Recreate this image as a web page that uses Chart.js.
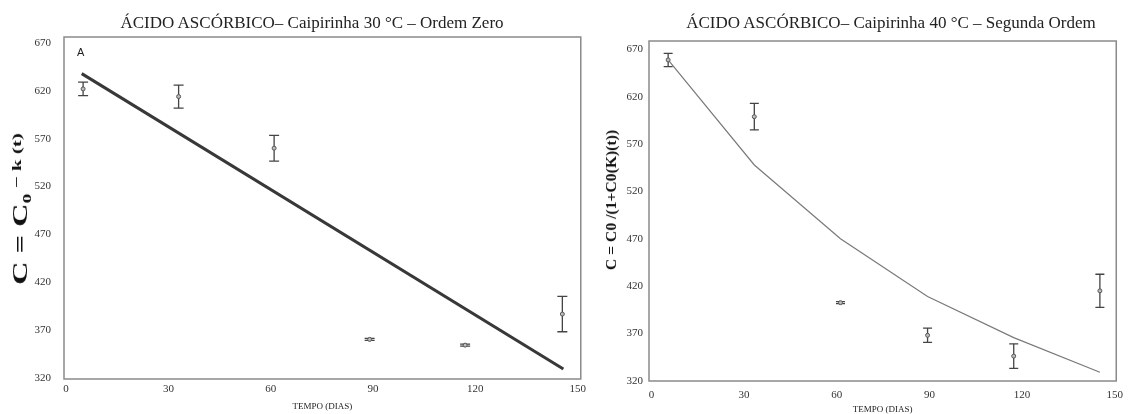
<!DOCTYPE html>
<html><head><meta charset="utf-8">
<script src="https://cdn.jsdelivr.net/npm/chart.js@4.4.1/dist/chart.umd.min.js"></script>
<style>
html,body{margin:0;padding:0;background:#fff;}
body{width:1131px;height:414px;position:relative;overflow:hidden;font-family:"Liberation Serif","DejaVu Serif",serif;}
canvas{position:absolute;top:0;}
#c1{left:0;}
#c2{left:590px;}
.title{position:absolute;top:14px;transform:translateX(-50%);white-space:nowrap;font-size:17px;line-height:17px;color:#222;}
#t1{left:312px;}
#t2{left:891px;}
#lblA{position:absolute;left:77px;top:47px;font-family:"Liberation Sans",Arial,sans-serif;font-size:11px;line-height:11px;color:#222;}
.ytitle{position:absolute;white-space:nowrap;font-weight:bold;color:#111;}
#yt1{left:20px;top:209px;font-size:20px;line-height:20px;transform:translate(-50%,-50%) rotate(-90deg) scaleX(1.62);}
#yt1 sub{font-size:12px;vertical-align:-4px;line-height:0;}
#yt1 .sp{font-size:13px;vertical-align:6px;line-height:0;}
#yt2{left:612px;top:200px;font-size:14px;line-height:14px;transform:translate(-50%,-50%) rotate(-90deg) scaleX(1.12);}
</style></head>
<body>
<canvas id="c1" width="590" height="414"></canvas>
<canvas id="c2" width="541" height="414"></canvas>
<div class="title" id="t1">ÁCIDO ASCÓRBICO– Caipirinha 30 °C – Ordem Zero</div>
<div class="title" id="t2">ÁCIDO ASCÓRBICO– Caipirinha 40 °C – Segunda Ordem</div>
<div id="lblA">A</div>
<div class="ytitle" id="yt1">C = C<sub>0</sub><span class="sp"> − k (t)</span></div>
<div class="ytitle" id="yt2">C = C0 /(1+C0(K)(t))</div>
<script>
// ---- data ----
const xTicks = [0, 30, 60, 90, 120, 150];
const yTicks = [320, 370, 420, 470, 520, 570, 620, 670];
const xTitle = 'TEMPO (DIAS)';

const days30 = [5, 33, 61, 89, 117, 145.5];
const conc30 = [622, 614, 560, 360, 354, 386.5];
const err30 = [7, 12, 13.5, 1, 1, 18.5];
const fitDays30 = [4.6, 145.8];
const fit30 = [638, 329];

const days40 = [5.4, 33.3, 61.2, 89.4, 117.3, 145.2];
const conc40 = [659, 599, 402.5, 368, 346, 415];
const err40 = [7, 14, 1, 7.5, 13, 17.5];
const model40 = [659, 548, 470, 409, 365.5, 329];

// ---- helpers ----
const FONT = '"Liberation Serif","DejaVu Serif",serif';
const pts = (xs, ys) => xs.map((x, i) => ({x: x, y: ys[i]}));

const errorBars = {
  id: 'errorBars',
  beforeDatasetsDraw(chart) {
    const ctx = chart.ctx, xs = chart.scales.x, ys = chart.scales.y;
    chart.data.datasets.forEach(ds => {
      if (!ds.errors) return;
      ctx.save();
      ctx.strokeStyle = ds.errColor || '#444';
      ctx.lineWidth = 1.3;
      ds.data.forEach((p, i) => {
        const e = ds.errors[i];
        const px = xs.getPixelForValue(p.x);
        const top = ys.getPixelForValue(p.y + e);
        const bot = ys.getPixelForValue(p.y - e);
        const cw = ds.capHalf || 5;
        ctx.beginPath();
        ctx.moveTo(px, top); ctx.lineTo(px, bot);
        ctx.moveTo(px - cw, top); ctx.lineTo(px + cw, top);
        ctx.moveTo(px - cw, bot); ctx.lineTo(px + cw, bot);
        ctx.stroke();
      });
      ctx.restore();
    });
  }
};
const frame = {
  id: 'frame',
  afterDraw(chart) {
    const a = chart.chartArea, ctx = chart.ctx;
    ctx.save();
    ctx.strokeStyle = '#8a8a8a';
    ctx.lineWidth = 1.5;
    ctx.strokeRect(a.left, a.top, a.right - a.left, a.bottom - a.top);
    ctx.restore();
  }
};

function makeScales(o) {
  return {
    x: {
      type: 'linear', min: o.xmin, max: o.xmax,
      border: {display: false},
      grid: {display: false, drawTicks: false},
      ticks: {padding: o.xpad, autoSkip: false, maxRotation: 0, color: '#333', font: {family: FONT, size: 11}},
      afterBuildTicks: s => { s.ticks = xTicks.map(v => ({value: v})); },
      afterFit: s => { s.height = o.xh; },
      title: {display: true, text: xTitle, color: '#222', font: {family: FONT, size: 9, lineHeight: 1}, padding: {top: 0, bottom: o.tpad}}
    },
    y: {
      type: 'linear', min: o.ymin, max: o.ymax,
      border: {display: false},
      grid: {display: false, drawTicks: false},
      ticks: {padding: o.ypad, autoSkip: false, color: '#333', font: {family: FONT, size: 11}},
      afterBuildTicks: s => { s.ticks = yTicks.map(v => ({value: v})); },
      afterFit: s => { s.width = o.yw; }
    }
  };
}

const common = {
  responsive: false, animation: false, devicePixelRatio: 1,
  plugins: {legend: {display: false}, tooltip: {enabled: false}}
};

new Chart(document.getElementById('c1'), {
  type: 'scatter',
  data: {datasets: [
    {data: pts(fitDays30, fit30), showLine: true, borderColor: '#383838', borderWidth: 3, pointRadius: 0, order: 2},
    {data: pts(days30, conc30), errors: err30, capHalf: 5, errColor: '#444', pointRadius: 2, borderWidth: 1, borderColor: '#555', backgroundColor: '#bdbdbd', order: 1}
  ]},
  options: Object.assign({}, common, {
    layout: {padding: {left: 0, right: 9, top: 37, bottom: 0}},
    scales: makeScales({xmin: -0.6, xmax: 150.9, ymin: 318.6, ymax: 676.3, xh: 35, yw: 64, xpad: 4, ypad: 13, tpad: 2.5})
  }),
  plugins: [errorBars, frame]
});

new Chart(document.getElementById('c2'), {
  type: 'scatter',
  data: {datasets: [
    {data: pts(days40, model40), showLine: true, borderColor: '#7a7a7a', borderWidth: 1.2, pointRadius: 0, order: 2},
    {data: pts(days40, conc40), errors: err40, capHalf: 4.5, errColor: '#444', pointRadius: 2, borderWidth: 1, borderColor: '#555', backgroundColor: '#bdbdbd', order: 1}
  ]},
  options: Object.assign({}, common, {
    layout: {padding: {left: 0, right: 10, top: 41, bottom: 0}},
    scales: makeScales({xmin: -0.8, xmax: 150.5, ymin: 319.7, ymax: 679, xh: 33, yw: 59, xpad: 8, ypad: 6, tpad: 0})
  }),
  plugins: [errorBars, frame]
});
</script>
</body></html>
